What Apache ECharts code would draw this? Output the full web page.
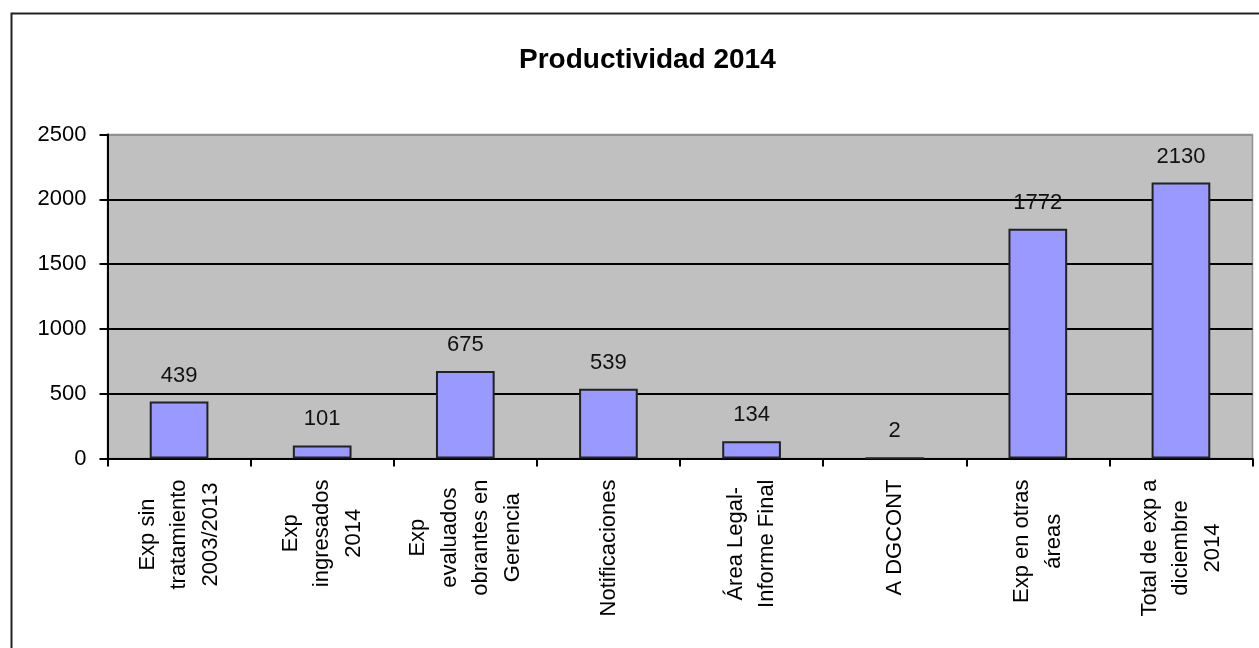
<!DOCTYPE html>
<html><head><meta charset="utf-8">
<script src="https://cdn.jsdelivr.net/npm/echarts@6/dist/echarts.min.js"></script>
<style>html,body{margin:0;padding:0;background:#fff}#c{width:1259px;height:648px}</style>
</head><body><div id="c"></div>
<script>
const titleText = 'Productividad 2014';
const categories = ['Exp sin\ntratamiento\n2003/2013', 'Exp\ningresados\n2014', 'Exp\nevaluados\nobrantes en\nGerencia', 'Notificaciones', 'Área Legal-\nInforme Final', 'A DGCONT', 'Exp en otras\náreas', 'Total de exp a\ndiciembre\n2014'];
const values = [439, 101, 675, 539, 134, 2, 1772, 2130];
const yMin = 0, yMax = 2500, yStep = 500;

const FONT = "'Liberation Sans', Arial, sans-serif";
const chart = echarts.init(document.getElementById('c'));
chart.setOption({
  animation: false,
  backgroundColor: '#fff',
  graphic: [{
    type: 'rect', left: 9, top: 11, silent: true,
    shape: { width: 1300, height: 700 },
    style: { fill: 'none', stroke: '#222', lineWidth: 2 }
  }],
  title: {
    text: titleText, left: 514, top: 41,
    textStyle: { fontFamily: FONT, fontSize: 28, fontWeight: 'bold', color: '#000' }
  },
  grid: {
    left: 107.5, right: 6.5, top: 134.5, bottom: 189.5,
    show: true, backgroundColor: '#c0c0c0', borderColor: '#909090', borderWidth: 1.5
  },
  xAxis: {
    type: 'category', data: categories, boundaryGap: true,
    axisLine: { lineStyle: { color: '#000', width: 2 } },
    axisTick: { show: true, length: 8, inside: false, alignWithLabel: false, lineStyle: { color: '#000', width: 2 } },
    axisLabel: {
      interval: 0, rotate: 90, margin: 21,
      formatter: v => v.split('\n').map(l => '{c|' + l + '}').join('\n'),
      rich: { c: { align: 'center', fontFamily: FONT, fontSize: 22, lineHeight: 31.5, color: '#000' } }
    },
    splitLine: { show: false }
  },
  yAxis: {
    type: 'value', min: yMin, max: yMax, interval: yStep,
    axisLine: { show: true, lineStyle: { color: '#000', width: 2 } },
    axisTick: { show: true, length: 8, lineStyle: { color: '#000', width: 2 } },
    axisLabel: { margin: 21, fontFamily: FONT, fontSize: 22, color: '#000', formatter: v => String(v) },
    splitLine: { show: true, lineStyle: { color: ['#000', '#000', '#000', '#000', '#000', '#909090'], width: 2 } }
  },
  series: [{
    type: 'bar', data: values, barWidth: '41%',
    itemStyle: { color: '#9999ff', borderColor: '#222', borderWidth: 2 },
    label: { show: true, position: 'top', distance: 15, fontFamily: FONT, fontSize: 22, color: '#111' }
  }]
});
</script></body></html>
